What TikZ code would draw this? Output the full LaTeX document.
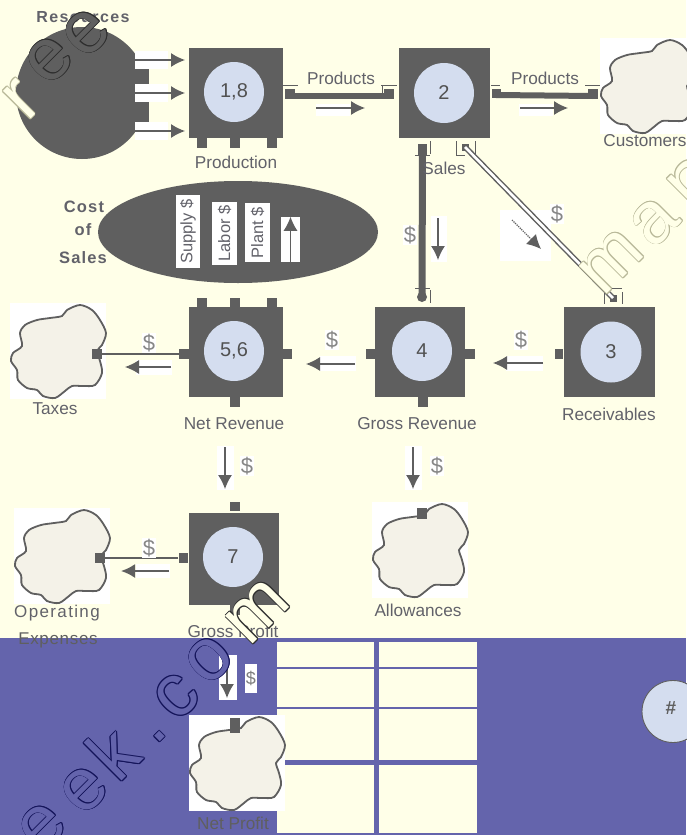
\documentclass[tikz,border=0pt]{standalone}
\usepackage{fontspec}
\setmainfont{Liberation Sans}
\usepackage[copies]{contour}
\usetikzlibrary{arrows.meta}
\definecolor{pagebg}{HTML}{FFFFE8}
\definecolor{ink}{HTML}{5F5F5F}
\definecolor{txt}{HTML}{62626A}
\definecolor{disc}{HTML}{D4DDEF}
\definecolor{band}{HTML}{6464AC}
\definecolor{cloudfill}{HTML}{F4F2E8}
\definecolor{wmtan}{HTML}{B8B898}
\definecolor{wmdark}{HTML}{2E2E2E}
\definecolor{wmblue}{HTML}{14145A}
\contournumber{8}
\contourlength{0.9pt}
% outlined letter: #1 outline colour, #2 fill colour, #3 letter
\newcommand{\outl}[3]{\contour{#1}{\textcolor{#2}{#3}}}
\tikzset{
  x=1pt,y=-1pt,
  boxn/.style={fill=ink,draw=none,inner sep=0pt},
  discn/.style={circle,fill=disc,draw=none,minimum size=60pt,inner sep=0pt,text=ink!85!black,font=\fontsize{20}{20}\selectfont},
  portn/.style={fill=ink,draw=none,inner sep=0pt,minimum width=#1},
  portn/.default=10pt,
  lab/.style={text=txt,inner sep=0pt,font=\fontsize{17.2}{18}\selectfont},
  spaced/.style={text=txt,inner sep=0pt},
  dollar/.style={fill=white,text=ink!75,inner sep=1pt,font=\fontsize{22}{22}\selectfont},
  flow/.style={draw=ink,line width=1.2pt,-{Latex[length=14pt,width=14pt]}},
  thick line/.style={draw=ink,line width=6pt},
  tick/.style={draw=ink,line width=.8pt},
  wm/.style={inner sep=0pt,rotate=45,font=\fontsize{74}{74}\selectfont},
}
\newcommand{\cloudtile}[3]{%
  \begin{scope}[shift={(#2,#3)}]
    \fill[white] (0,0) rectangle (96,96);
    \draw[fill=cloudfill,draw=ink,line width=1.8pt] plot[smooth cycle,tension=.5] coordinates {
      (70,2)(82,7)(90,17)(96,30)(92,42)(87,48)(90,58)(92,70)(85,82)(73,83)(62,83)(55,88)(45,95)(33,93)(27,87)(17,85)(8,77)(7,67)(1,58)(3,50)(12,43)(10,30)(15,22)(27,17)(40,15)(52,13)(57,7)};
    \node[inner sep=0pt,minimum size=0pt] (#1) at (48,48) {};
  \end{scope}}
\begin{document}
\begin{tikzpicture}
\useasboundingbox (0,0) rectangle (686,835);
\fill[pagebg] (0,0) rectangle (686,835);
% bottom band
\fill[band] (0,638) rectangle (686,835);
\foreach \xa/\xb in {277/374,379/477}{
  \foreach \ya/\yb in {642/667,669/707,709/760,765/833}{
    \fill[pagebg] (\xa,\ya) rectangle (\xb,\yb);
  }
}
\node[discn,draw=ink,line width=.9pt,minimum size=62pt] (hashd) at (673,711.5) {};
\node[text=ink,inner sep=0pt,font=\fontsize{19}{19}\selectfont\bfseries] (hash) at (671,708) {\#};
% resources
\fill[ink] (82,93) circle (66);
\fill[ink] (130,69) rectangle (149,122);
\node[spaced,font=\fontsize{16}{16}\selectfont\bfseries\addfontfeatures{LetterSpace=9}] (res) at (83,17) {Resources};
\foreach \n/\y in {ra/60,rb/93,rc/131}{
  \fill[white] (135,\y-9) rectangle (168,\y+9);
  \coordinate (\n s) at (135,\y);
  \coordinate (\n e) at (185,\y);
  \draw[flow] (\n s) -- (\n e);
}
% boxes
\node[boxn,minimum width=94pt,minimum height=90pt] (b18) at (236,93) {};
\node[boxn,minimum width=91pt,minimum height=90pt] (b2) at (444.5,93) {};
\node[boxn,minimum width=91pt,minimum height=90pt] (b3) at (609.5,352) {};
\node[boxn,minimum width=90pt,minimum height=90pt] (b4) at (420,352) {};
\node[boxn,minimum width=94pt,minimum height=90pt] (b56) at (236,352) {};
\node[boxn,minimum width=90pt,minimum height=92pt] (b7) at (234,559) {};
\node[discn] (d18) at (234,92) {1,8};
\node[discn] (d2) at (444,93) {2};
\node[discn,minimum size=61pt] (d3) at (611,352) {3};
\node[discn] (d4) at (422,351) {4};
\node[discn] (d56) at (234,351) {5,6};
\node[discn] (d7) at (233,557) {7};
\foreach \x/\k in {202/a,235/b,272/c}{
  \node[portn,minimum height=10pt] (pb\k) at (\x,143) {};
  \node[portn,minimum height=10pt] (nt\k) at (\x,303) {};
}
% cost of sales
\fill[ink] (238,232) ellipse (140 and 51);
\node[fill=white,text=txt,inner sep=0pt,minimum width=24pt,minimum height=73pt,font=\fontsize{16.5}{16}\selectfont] (sup) at (188,231.5) {\rotatebox{90}{Supply \$}};
\node[fill=white,text=txt,inner sep=0pt,minimum width=25pt,minimum height=63pt,font=\fontsize{16.5}{16}\selectfont] (lab) at (224.5,233.5) {\rotatebox{90}{Labor \$}};
\node[fill=white,text=txt,inner sep=0pt,minimum width=25pt,minimum height=59pt,font=\fontsize{16.5}{16}\selectfont] (pla) at (257.5,232.5) {\rotatebox{90}{Plant \$}};
\node[fill=white,inner sep=0pt,minimum width=19pt,minimum height=45pt] (upb) at (290.5,239.5) {};
\draw[flow] (upb.south) -- (upb.north);
\node[spaced,font=\fontsize{16.5}{16}\selectfont\bfseries\addfontfeatures{LetterSpace=7}] (c1) at (84,207) {Cost};
\node[spaced,font=\fontsize{16.5}{16}\selectfont\bfseries\addfontfeatures{LetterSpace=7}] (c2) at (83,230) {of};
\node[spaced,font=\fontsize{16.5}{16}\selectfont\bfseries\addfontfeatures{LetterSpace=7}] (c3) at (83,258) {Sales};
% clouds
\cloudtile{cust}{600}{38}
\cloudtile{tax}{10}{303}
\cloudtile{opx}{14}{508}
\cloudtile{alw}{372}{502}
\cloudtile{npf}{189}{715}
% top row connectors
\node[portn,minimum height=10pt] (p1) at (290,94) {};
\node[portn,minimum height=10pt] (p2) at (389,94) {};
\node[portn,minimum height=9pt,minimum width=9pt] (p3) at (496,93) {};
\node[portn,minimum height=10pt] (p4) at (593,94) {};
\draw[thick line] ([yshift=-2pt]p1.center) -- ([yshift=-2pt]p2.center);
\draw[thick line] ([yshift=-2pt]p3.center) -- ([yshift=-2pt]p4.center);
\draw[tick] (283,85) -- (298,85) (381,85) -- (397,85) (382,85) -- (382,99);
\draw[tick] (491,85) -- (500,85) (585,85) -- (600,85);
\node[lab] (tp1) at (341,78) {Products};
\node[lab] (tp2) at (545,78) {Products};
\fill[white] (316,104) rectangle (350,116);
\fill[white] (519,104) rectangle (553,116);
\coordinate (f1s) at (316,108); \coordinate (f1e) at (365,108);
\coordinate (f2s) at (520,108); \coordinate (f2e) at (568,108);
\draw[flow] (f1s) -- (f1e);
\draw[flow] (f2s) -- (f2e);
% sales to gross revenue
\node[portn,minimum width=9pt,minimum height=11pt] (p5) at (422.5,149.5) {};
\node[circle,fill=ink,inner sep=0pt,minimum size=10pt] (p6) at (422,297) {};
\draw[draw=ink,line width=7pt] (p5.center) -- (p6.center);
\draw[tick] (430,141) -- (430,154) (415,155) -- (430,155) (415,288) -- (430,288) (430,290) -- (430,303);
\node[dollar] (ds1) at (410,235) {\$};
\fill[white] (431,216) rectangle (447,262);
\coordinate (f3s) at (438,218); \coordinate (f3e) at (438,260);
\draw[flow] (f3s) -- (f3e);
% sales to receivables
\fill[white] (500,210) rectangle (551,261);
\node[portn,minimum width=7pt,minimum height=7pt] (p7) at (465,147) {};
\node[portn,minimum width=7pt,minimum height=7pt] (p8) at (613,298) {};
\draw[draw=ink,line width=5.5pt] (p7.center) -- (p8.center);
\draw[draw=white,line width=2.6pt] (p7.center) -- (p8.center);
\draw[tick] (456,141) -- (456,155) -- (465,155) (475,141) -- (475,155);
\draw[tick] (605,288) -- (622,288) (604,292) -- (604,304) (622,292) -- (622,304);
\node[dollar] (ds2) at (557,214) {\$};
\coordinate (f4s) at (512,220); \coordinate (f4e) at (541,249);
\draw[flow,densely dotted] (f4s) -- (f4e);
% middle row ports and connectors
\node[portn,minimum width=8pt,minimum height=10pt] (p9) at (559,354) {};
\node[portn,minimum height=10pt] (p10) at (470,354) {};
\node[portn,minimum height=10pt] (p11) at (371,354) {};
\node[portn,minimum height=10pt] (p12) at (422.5,402) {};
\node[portn,minimum height=10pt] (p13) at (287,354) {};
\node[portn,minimum height=10pt] (p14) at (184,354) {};
\node[portn,minimum height=10pt] (p15) at (235,402) {};
\node[portn,minimum height=10pt] (p16) at (97,354) {};
\draw[draw=ink,line width=1.4pt] (p14) -- (p16);
\node[dollar] (ds3) at (521,340) {\$};
\node[dollar] (ds4) at (332,340) {\$};
\node[dollar] (ds5) at (149,343) {\$};
\fill[white] (506,356) rectangle (543,371);
\fill[white] (320,356) rectangle (356,371);
\fill[white] (136,360) rectangle (172,375);
\coordinate (f5s) at (543,363); \coordinate (f5e) at (493,363);
\coordinate (f6s) at (355,364); \coordinate (f6e) at (306,364);
\coordinate (f7s) at (171,367); \coordinate (f7e) at (125,367);
\draw[flow] (f5s) -- (f5e);
\draw[flow] (f6s) -- (f6e);
\draw[flow] (f7s) -- (f7e);
% down arrows
\fill[white] (217,446) rectangle (234,490);
\fill[white] (405,446) rectangle (422,490);
\coordinate (f8s) at (225,447); \coordinate (f8e) at (225,489);
\coordinate (f9s) at (413,447); \coordinate (f9e) at (413,489);
\draw[flow] (f8s) -- (f8e);
\draw[flow] (f9s) -- (f9e);
\node[dollar] (ds6) at (247,466) {\$};
\node[dollar] (ds7) at (437,466) {\$};
% lower row
\node[portn,minimum height=9pt] (p17) at (235,506.5) {};
\node[portn,minimum width=9pt,minimum height=10pt] (p18) at (183,558) {};
\node[portn,minimum height=10pt] (p19) at (235,610) {};
\node[portn,minimum height=10pt] (p20) at (99.5,558) {};
\draw[draw=ink,line width=1.4pt] (p18) -- (p20);
\node[portn,minimum height=11pt] (p21) at (422,513) {};
\node[dollar] (ds8) at (149,548) {\$};
\fill[white] (136,564) rectangle (170,578);
\coordinate (f10s) at (169,571); \coordinate (f10e) at (121,571);
\draw[flow,line width=2pt] (f10s) -- (f10e);
% net profit inflow
\fill[white] (219,655) rectangle (237,700);
\coordinate (f11s) at (227,657); \coordinate (f11e) at (227,698);
\draw[flow] (f11s) -- (f11e);
\node[fill=white,text=ink!80,inner sep=0pt,minimum width=12pt,minimum height=29pt,font=\fontsize{18}{18}\selectfont] (ds9) at (251,678.5) {\$};
\node[portn,minimum height=15pt] (p22) at (235,725) {};
% labels
\node[lab] (lb1) at (236,162) {Production};
\node[lab] (lb2) at (444,168) {Sales};
\node[lab] (lb3) at (645,141) {Customers};
\node[lab] (lb4) at (609,414) {Receivables};
\node[lab] (lb5) at (417,424) {Gross Revenue};
\node[lab] (lb6) at (234,424) {Net Revenue};
\node[lab] (lb7) at (55,409) {Taxes};
\node[lab] (lb8) at (418,610) {Allowances};
\node[lab] (lb9) at (233,631) {Gross Profit};
\node[lab,font=\fontsize{17}{18}\selectfont\addfontfeatures{LetterSpace=8}] (lb10) at (57,613) {Operating};
\node[lab,text=ink,font=\fontsize{17}{18}\selectfont\addfontfeatures{LetterSpace=4}] (lb11) at (58,640) {Expenses};
\node[lab,text=ink] (lb12) at (233,823) {Net Profit};
% watermark letters
\node[wm] (w1) at (22,100) {\outl{wmtan}{pagebg}{r}};
\node[wm] (w2) at (50,60) {\outl{wmdark}{ink}{e}};
\node[wm] (w3) at (87,33) {\outl{wmdark}{ink}{e}};
\node[wm] (w4) at (612,262) {\outl{wmtan}{pagebg}{m}};
\node[wm] (w5) at (655,222) {\outl{wmtan}{pagebg}{a}};
\node[wm] (w6) at (692,182) {\outl{wmtan}{pagebg}{n}};
\node[wm] (w7) at (43,827) {\outl{wmblue}{band}{e}};
\node[wm] (w8) at (85,790) {\outl{wmblue}{band}{e}};
\node[wm] (w9) at (113,753) {\outl{wmblue}{band}{k}};
\node[wm] (w10) at (160,737) {\outl{wmblue}{band}{.}};
\node[wm] (w11) at (177,697) {\outl{wmblue}{band}{c}};
\node[wm] (w12) at (210,660) {\outl{wmblue}{band}{o}};
\node[wm] (w13) at (258,612) {\outl{wmdark}{pagebg}{m}};
\end{tikzpicture}
\end{document}
